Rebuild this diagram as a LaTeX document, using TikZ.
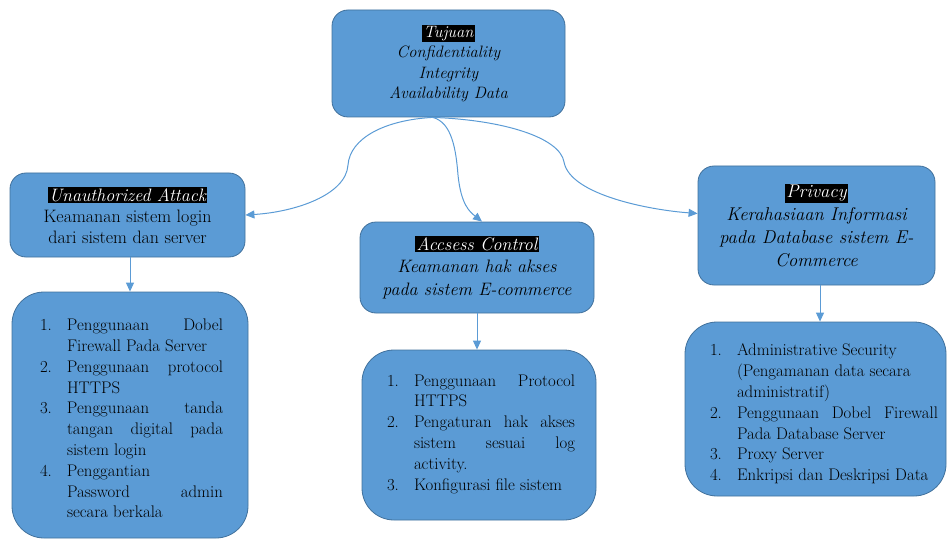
\documentclass[tikz,border=0pt]{standalone}
\usepackage{fontspec}
\usetikzlibrary{arrows.meta}
\definecolor{boxfill}{HTML}{5B9BD5}
\definecolor{boxline}{HTML}{41719C}
% white title on a black band
\newcommand{\hl}[1]{{\setlength{\fboxsep}{1.5pt}\colorbox{black}{\textcolor{white}{\itshape #1}}}}
% numbered entry with a hanging indent
\newcommand{\itm}[2]{\par\noindent\hangindent=27pt\hangafter=1\makebox[27pt][l]{#1.}#2\par}
% no hyphenation inside the lists
\newcommand{\nohyph}{\hyphenpenalty=10000\relax\exhyphenpenalty=10000\relax}
\begin{document}
\begin{tikzpicture}[x=1pt,y=-1pt,
  hdr/.style={draw=boxline,fill=boxfill,line width=0.8pt,rounded corners=16pt,
    align=center,inner sep=0pt,font=\fontsize{18}{21}\selectfont},
  lstbox/.style={draw=boxline,fill=boxfill,line width=0.8pt,rounded corners=32pt,inner sep=0pt},
  lsttext/.style={inner sep=0pt,align=justify,font=\fontsize{16.8}{20.8}\selectfont},
  link/.style={draw=boxfill,line width=1pt,-{Triangle[length=9pt,width=8pt]}}]
\useasboundingbox (0,0) rectangle (947,540);

% header boxes
\node[hdr,minimum width=233,minimum height=107,font=\fontsize{16.5}{20.5}\selectfont\itshape] (top) at (448.5,63.5)
  {\hl{Tujuan}\\Confidentiality\\Integrity\\Availability Data};
\node[hdr,minimum width=235,minimum height=84] (ua) at (127.5,215)
  {\hl{Unauthorized Attack}\\Keamanan sistem login\\dari sistem dan server};
\node[hdr,minimum width=234,minimum height=91,font=\fontsize{18}{22.5}\selectfont\itshape] (acc) at (477,267.5)
  {\hl{Accsess Control}\\Keamanan hak akses\\pada sistem E-commerce};
\node[hdr,minimum width=237,minimum height=119,font=\fontsize{18.5}{23}\selectfont\itshape] (pv) at (816.5,225.5)
  {\hl{Privacy}\\Kerahasiaan Informasi\\pada Database sistem E-\\Commerce};

% list boxes
\node[lstbox,minimum width=236,minimum height=246] (l1) at (130,415) {};
\node[lstbox,minimum width=234,minimum height=170] (l2) at (479,435) {};
\node[lstbox,minimum width=261,minimum height=174] (l3) at (815.5,409) {};

\node[lsttext,text width=183] (l1t) at (131.5,414) {\nohyph
  \itm{1}{Penggunaan Dobel\linebreak Firewall Pada Server}
  \itm{2}{Penggunaan protocol\linebreak HTTPS}
  \itm{3}{Penggunaan tanda\linebreak tangan digital pada\linebreak sistem login}
  \itm{4}{Penggantian\newline Password admin\linebreak secara berkala}};
\node[lsttext,text width=188] (l2t) at (481,429.5) {\nohyph
  \itm{1}{Penggunaan Protocol\linebreak HTTPS}
  \itm{2}{Pengaturan hak akses\linebreak sistem sesuai log\linebreak activity.}
  \itm{3}{Konfigurasi file sistem}};
\node[lsttext,text width=228] (l3t) at (824,409.5) {\nohyph
  \itm{1}{Administrative Security\newline (Pengamanan data secara\newline administratif)}
  \itm{2}{Penggunaan Dobel Firewall\linebreak Pada Database Server}
  \itm{3}{Proxy Server}
  \itm{4}{Enkripsi dan Deskripsi Data}};

% connectors
\coordinate (src) at ([xshift=-16pt]top.south);
\draw[link] (src) .. controls (385,120) and (350,138) .. (348,165)
  .. controls (346,195) and (295,212) .. (ua.east);
\draw[link] (src) .. controls (452,122) and (456,150) .. (458,175)
  .. controls (461,205) and (470,212) .. ([xshift=5pt]acc.north);
\draw[link] (src) .. controls (505,120) and (560,138) .. (564,162)
  .. controls (570,195) and (650,210) .. ([yshift=12pt]pv.west);

\draw[link] ([xshift=2.5pt]ua.south) -- ([xshift=2.5pt]ua.south |- l1.north);
\draw[link] (acc.south) -- (acc.south |- l2.north);
\draw[link] ([xshift=3.5pt]pv.south) -- ([xshift=3.5pt]pv.south |- l3.north);
\end{tikzpicture}
\end{document}
